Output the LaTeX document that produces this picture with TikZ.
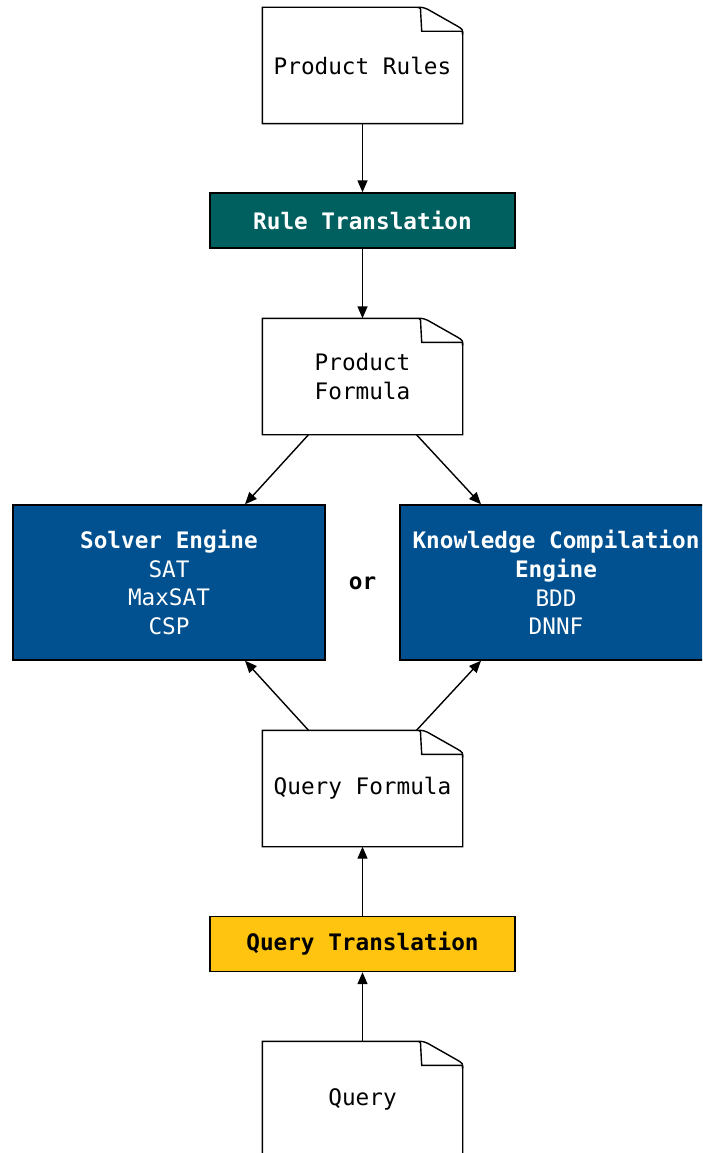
\documentclass[tikz,border=0pt]{standalone}
\usepackage{fontspec}
\setmonofont{DejaVu Sans Mono}
\usetikzlibrary{arrows.meta,calc}

\definecolor{ruleteal}{RGB}{0,95,95}
\definecolor{engineblue}{RGB}{1,80,143}
\definecolor{queryyellow}{RGB}{255,196,15}

\tikzset{
  base/.style={font=\ttfamily\fontsize{22.7}{28.7}\selectfont, align=center,
    inner sep=0pt, line width=1.4pt},
  doc/.style={base, minimum width=199pt, minimum height=115pt},
  stage/.style={base, draw, minimum width=305pt, minimum height=55pt},
  engine/.style={base, draw, fill=engineblue, text=white,
    minimum width=312pt, minimum height=155pt},
  conn/.style={line width=1.4pt, -{Triangle[length=12pt,width=10pt]}},
}

% outline of a document node with a folded top-right corner
\newcommand{\docoutline}[1]{%
  \draw[line width=1.4pt]
    (#1.south east) -- (#1.south west) -- (#1.north west)
    -- ($(#1.north east)+(-46,0)$)
    .. controls ($(#1.north east)+(-40,0)$) .. ($(#1.north east)+(-35,2)$)
    -- ($(#1.north east)+(-5,19)$)
    .. controls ($(#1.north east)+(0,22)$) .. ($(#1.north east)+(0,28)$)
    -- cycle;
  \draw[line width=1.4pt]
    ($(#1.north east)+(-44,0)$)
    .. controls ($(#1.north east)+(-42,1)$) .. ($(#1.north east)+(-42,6)$)
    -- ($(#1.north east)+(-41,24)$) -- ($(#1.north east)+(-2,24)$)
    .. controls ($(#1.north east)+(0,24)$) .. ($(#1.north east)+(0,27)$);
}

\begin{document}
\begin{tikzpicture}[x=1pt,y=-1pt]
  \useasboundingbox (0,0) rectangle (702,1153);
  \clip (0,0) rectangle (702,1153);

  % documents
  \node[doc] (rules)   at (362.5,65.5)  {Product Rules};
  \node[doc] (pformula) at (362.5,376.5) {Product\\Formula};
  \node[doc] (qformula) at (362.5,788.5) {Query Formula};
  \node[doc] (query)   at (362.5,1099.5) {Query};
  \docoutline{rules}
  \docoutline{pformula}
  \docoutline{qformula}
  \docoutline{query}

  % translation stages
  \node[stage, fill=ruleteal, text=white, font=\ttfamily\bfseries\fontsize{22.7}{28.7}\selectfont]
    (rtrans) at (362.5,220.5) {Rule Translation};
  \node[stage, fill=queryyellow, text=black, font=\ttfamily\bfseries\fontsize{22.7}{28.7}\selectfont]
    (qtrans) at (362.5,944) {Query Translation};

  % engines
  \node[engine] (solver) at (169,582.5)
    {\textbf{Solver Engine}\\SAT\\MaxSAT\\CSP};
  \node[engine] (kc) at (556,582.5)
    {\textbf{Knowledge Compilation}\\\textbf{Engine}\\BDD\\DNNF};
  \node[base, font=\ttfamily\bfseries\fontsize{22.7}{28.7}\selectfont] (or) at (362.5,583) {or};

  % connectors
  \draw[conn] (rules.south) -- (rtrans.north);
  \draw[conn] (rtrans.south) -- (pformula.north);
  \draw[conn] ([xshift=-54pt]pformula.south) -- ([xshift=76pt]solver.north);
  \draw[conn] ([xshift=54pt]pformula.south) -- ([xshift=-75pt]kc.north);
  \draw[conn] ([xshift=-54pt]qformula.north) -- ([xshift=76pt]solver.south);
  \draw[conn] ([xshift=54pt]qformula.north) -- ([xshift=-75pt]kc.south);
  \draw[conn] (qtrans.north) -- (qformula.south);
  \draw[conn] (query.north) -- (qtrans.south);
\end{tikzpicture}
\end{document}
